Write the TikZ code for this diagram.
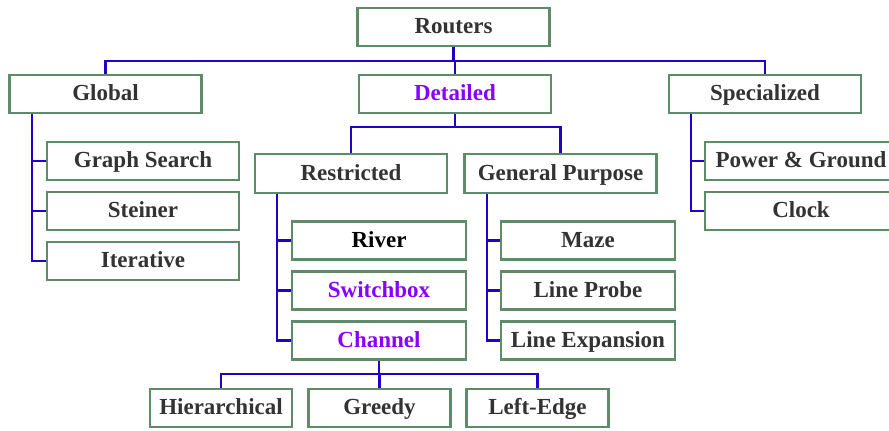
\documentclass[tikz,border=0pt]{standalone}
\usepackage{fontspec}
\setmainfont{Liberation Serif}
\usetikzlibrary{calc,backgrounds}
\definecolor{boxgreen}{RGB}{94,140,106}
\definecolor{linkblue}{RGB}{34,0,204}
\definecolor{labelgrey}{RGB}{51,51,51}
\definecolor{labelpurple}{RGB}{136,0,255}
\tikzset{
  box/.style={draw=boxgreen, line width=2.4pt, fill=white, inner sep=0pt,
    minimum height=38pt, text=labelgrey, text height=17pt, text depth=4pt,
    font=\fontsize{23}{27}\selectfont\bfseries},
  wide/.style={box, minimum width=192pt},
  narrow/.style={box, minimum width=174pt},
  small/.style={box, minimum width=142pt},
  hot/.style={text=labelpurple},
  link/.style={draw=linkblue, line width=2.3pt}
}
\begin{document}
\begin{tikzpicture}[x=1pt,y=-1pt]
\clip (0,0) rectangle (889,431);
\useasboundingbox (0,0) rectangle (889,431);

% top level
\node[wide] (routers) at (453.5,27) {Routers};
\node[wide] (global) at (105.5,94) {Global};
\node[wide, hot] (detailed) at (455,94) {Detailed};
\node[wide] (special) at (765,94) {Specialized};

% global algorithms
\node[wide] (graph) at (143,161) {Graph Search};
\node[wide] (steiner) at (143,211) {Steiner};
\node[wide] (iter) at (143,261) {Iterative};

% detailed families
\node[wide, minimum height=39pt] (restr) at (351,173.5) {Restricted};
\node[wide, minimum height=39pt] (general) at (560.5,173.5) {General Purpose};

% restricted routers
\node[narrow, text=black] (river) at (379,240.5) {River};
\node[narrow, hot] (switch) at (379,290.5) {Switchbox};
\node[narrow, hot] (channel) at (379,340.5) {Channel};

% general purpose routers
\node[narrow] (maze) at (588,240.5) {Maze};
\node[narrow] (probe) at (588,290.5) {Line Probe};
\node[narrow] (expand) at (588,340.5) {Line Expansion};

% channel routers
\node[small] (hier) at (221,408) {Hierarchical};
\node[small] (greedy) at (379.5,408) {Greedy};
\node[small] (leftedge) at (537.5,408) {Left-Edge};

% specialized routers
\node[wide] (power) at (801,161) {Power \& Ground};
\node[wide] (clock) at (801,211) {Clock};

% bus levels and spines
\coordinate (topbus) at (0,61);
\coordinate (detbus) at (0,127);
\coordinate (chanbus) at (0,374);
\coordinate (gspine) at ([xshift=-14pt]graph.west);
\coordinate (rspine) at ([xshift=-14pt]river.west);
\coordinate (mspine) at ([xshift=-13pt]maze.west);
\coordinate (pspine) at ([xshift=-13pt]power.west);

% tree links, kept behind the boxes
\begin{scope}[on background layer]
\draw[link] (routers.south) -- (routers.south |- topbus);
\draw[link] (global.north) |- (topbus -| routers.south) -| (special.north);
\draw[link] (topbus -| detailed.north) -- (detailed.north);

\draw[link] (detailed.south) -- (detailed.south |- detbus);
\draw[link] (restr.north) |- (detbus -| detailed.south) -| (general.north);

\draw[link] (gspine |- global.south) |- (iter.west);
\draw[link] (gspine |- graph.west) -- (graph.west);
\draw[link] (gspine |- steiner.west) -- (steiner.west);

\draw[link] (rspine |- restr.south) |- (channel.west);
\draw[link] (rspine |- river.west) -- (river.west);
\draw[link] (rspine |- switch.west) -- (switch.west);

\draw[link] (mspine |- general.south) |- (expand.west);
\draw[link] (mspine |- maze.west) -- (maze.west);
\draw[link] (mspine |- probe.west) -- (probe.west);

\draw[link] (pspine |- special.south) |- (clock.west);
\draw[link] (pspine |- power.west) -- (power.west);

\draw[link] (channel.south) -- (channel.south |- chanbus);
\draw[link] (hier.north) |- (chanbus -| channel.south) -| (leftedge.north);
\draw[link] (chanbus -| greedy.north) -- (greedy.north);
\end{scope}
\end{tikzpicture}
\end{document}
